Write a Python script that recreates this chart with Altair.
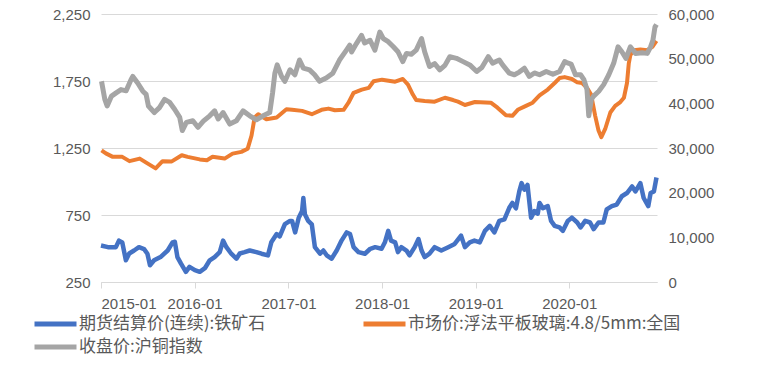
import altair as alt
import pandas as pd

SERIES = ["期货结算价(连续):铁矿石", "市场价:浮法平板玻璃:4.8/5mm:全国", "收盘价:沪铜指数"]
COLORS = ["#4472C4", "#ED7D31", "#A5A5A5"]
# legend fills column by column: order so rows read blue | orange, then gray
LEGEND_ORDER = [0, 2, 1]

# 期货结算价(连续):铁矿石 (left axis)
iron_dates = [
    "2015-01-01", "2015-01-28", "2015-02-28", "2015-03-12", "2015-03-25", "2015-04-08", "2015-04-21",
    "2015-05-10", "2015-05-29", "2015-06-18", "2015-07-01", "2015-07-11", "2015-07-27", "2015-08-21",
    "2015-09-18", "2015-10-07", "2015-10-16", "2015-10-26", "2015-11-09", "2015-11-28", "2015-12-12",
    "2016-01-02", "2016-01-21", "2016-02-10", "2016-02-29", "2016-03-19", "2016-04-08", "2016-04-21",
    "2016-05-04", "2016-05-23", "2016-06-12", "2016-06-25", "2016-07-14", "2016-08-03", "2016-08-29",
    "2016-09-18", "2016-10-13", "2016-10-26", "2016-11-16", "2016-11-28", "2016-12-18",
    "2017-01-07", "2017-01-15", "2017-01-27", "2017-02-10", "2017-02-23", "2017-02-28", "2017-03-06",
    "2017-03-19", "2017-04-02", "2017-04-14", "2017-05-04", "2017-05-17", "2017-05-30", "2017-06-18",
    "2017-07-08", "2017-07-27", "2017-08-16", "2017-08-29", "2017-09-12", "2017-10-01", "2017-10-26",
    "2017-11-16", "2017-12-05", "2017-12-30",
    "2018-01-12", "2018-01-25", "2018-02-05", "2018-02-21", "2018-03-04", "2018-03-17", "2018-04-06",
    "2018-04-18", "2018-05-08", "2018-05-23", "2018-06-04", "2018-06-16", "2018-07-05", "2018-07-25",
    "2018-08-20", "2018-09-16", "2018-10-11", "2018-11-05", "2018-11-20", "2018-12-09", "2018-12-27",
    "2019-01-17", "2019-02-06", "2019-02-25", "2019-03-15", "2019-04-03", "2019-04-23", "2019-05-12",
    "2019-05-24", "2019-06-07", "2019-06-20", "2019-06-29", "2019-07-10", "2019-07-22", "2019-08-05",
    "2019-08-18", "2019-08-31", "2019-09-07", "2019-09-20", "2019-10-09", "2019-10-22", "2019-11-05",
    "2019-11-24", "2019-12-07", "2019-12-26",
    "2020-01-11", "2020-02-01", "2020-02-14", "2020-03-03", "2020-03-22", "2020-04-05", "2020-04-24",
    "2020-05-13", "2020-05-26", "2020-06-15", "2020-07-04", "2020-07-24", "2020-08-13", "2020-09-02",
    "2020-09-15", "2020-10-04", "2020-10-17", "2020-11-04", "2020-11-13", "2020-11-26", "2020-12-06",
]
iron_values = [
    522, 510, 510, 559, 545, 412, 463, 485, 510, 495, 461, 375, 412, 436, 485, 546, 550, 436, 387, 326, 363,
    338, 326, 353, 412, 436, 473, 559, 510, 461, 424, 463, 473, 485, 473, 461, 449, 546, 608, 590, 682,
    706, 706, 620, 730, 779, 877, 755, 706, 680, 510, 461, 485, 449, 424, 485, 559, 620, 608, 510, 473,
    461, 498, 510, 498,
    546, 632, 559, 546, 473, 510, 485, 449, 510, 571, 485, 436, 461, 510, 485, 510, 534, 596, 510, 546, 559,
    546, 632, 669, 620, 706, 718, 804, 840, 800, 926, 988, 939, 975, 730, 779, 760, 840, 800, 816, 706,
    669, 657, 632, 706,
    730, 694, 657, 706, 694, 645, 694, 694, 792, 816, 828, 890, 914, 963, 926, 988, 877, 816, 914, 926, 1030,
]

# 市场价:浮法平板玻璃:4.8/5mm:全国 (left axis)
glass_dates = [
    "2015-01-03", "2015-01-20", "2015-02-16", "2015-03-25", "2015-04-22", "2015-06-01", "2015-07-01",
    "2015-08-02", "2015-08-29", "2015-10-04", "2015-11-12", "2015-12-05",
    "2016-01-21", "2016-02-18", "2016-03-11", "2016-04-27", "2016-05-28", "2016-07-01", "2016-07-26",
    "2016-08-10", "2016-08-22", "2016-09-05", "2016-10-07", "2016-11-16", "2016-12-24",
    "2017-01-15", "2017-02-23", "2017-04-02", "2017-05-10", "2017-06-06", "2017-07-01", "2017-08-04",
    "2017-08-23", "2017-09-12", "2017-10-14", "2017-11-10", "2017-11-29",
    "2018-01-01", "2018-02-21", "2018-03-23", "2018-04-12", "2018-05-01", "2018-05-14", "2018-06-16",
    "2018-07-25", "2018-09-03", "2018-10-05", "2018-10-24", "2018-11-20", "2018-12-29",
    "2019-03-01", "2019-03-27", "2019-04-29", "2019-05-24", "2019-06-14", "2019-07-16", "2019-08-11",
    "2019-09-07", "2019-10-09", "2019-11-05", "2019-11-24", "2019-12-14",
    "2020-01-11", "2020-02-01", "2020-02-20", "2020-03-10", "2020-03-26", "2020-04-11", "2020-04-24",
    "2020-05-05", "2020-05-20", "2020-06-09", "2020-06-28", "2020-07-18", "2020-08-01", "2020-08-13",
    "2020-08-20", "2020-08-26", "2020-09-09", "2020-10-04", "2020-10-31", "2020-11-20", "2020-12-06",
]
glass_values = [
    1233, 1210, 1184, 1184, 1152, 1171, 1135, 1098, 1152, 1150, 1196, 1184,
    1165, 1159, 1184, 1171, 1208, 1221, 1245, 1343, 1478, 1502, 1465, 1478, 1539,
    1535, 1527, 1502, 1535, 1544, 1532, 1535, 1588, 1662, 1686, 1699, 1748,
    1760, 1745, 1765, 1723, 1649, 1608, 1601, 1596, 1625, 1608, 1596, 1571, 1593,
    1588, 1551, 1495, 1490, 1535, 1564, 1588, 1642, 1686, 1735, 1772, 1779,
    1765, 1740, 1735, 1699, 1649, 1490, 1380, 1331, 1392, 1515, 1564, 1593, 1625, 1735,
    1882, 1943, 1980, 1985, 1980, 2005, 2050,
]

# 收盘价:沪铜指数 (right axis)
copper_dates = [
    "2015-01-03", "2015-01-16", "2015-01-25", "2015-02-11", "2015-03-01", "2015-03-20", "2015-04-09",
    "2015-04-28", "2015-05-05", "2015-05-24", "2015-06-13", "2015-06-26", "2015-07-05", "2015-07-28",
    "2015-08-17", "2015-09-06", "2015-09-26", "2015-10-15", "2015-11-04", "2015-11-14", "2015-11-30",
    "2015-12-25",
    "2016-01-14", "2016-02-04", "2016-02-29", "2016-03-19", "2016-04-02", "2016-04-21", "2016-05-17",
    "2016-06-12", "2016-07-08", "2016-08-03", "2016-08-29", "2016-09-24", "2016-10-20", "2016-10-31",
    "2016-11-09", "2016-11-18", "2016-12-05", "2016-12-18",
    "2017-01-07", "2017-01-26", "2017-02-13", "2017-02-28", "2017-03-24", "2017-04-13", "2017-05-02",
    "2017-05-28", "2017-06-23", "2017-07-19", "2017-08-15", "2017-08-28", "2017-09-04", "2017-09-23",
    "2017-10-13", "2017-10-25", "2017-11-15", "2017-12-04", "2017-12-23",
    "2018-01-06", "2018-01-25", "2018-02-14", "2018-03-04", "2018-03-23", "2018-04-06", "2018-04-25",
    "2018-05-14", "2018-06-04", "2018-06-16", "2018-07-05", "2018-07-25", "2018-08-14", "2018-09-03",
    "2018-09-22", "2018-10-18", "2018-11-13", "2018-12-09",
    "2019-01-05", "2019-01-25", "2019-02-19", "2019-03-08", "2019-04-03", "2019-04-16", "2019-05-12",
    "2019-06-01", "2019-06-20", "2019-07-10", "2019-07-29", "2019-08-18", "2019-09-07", "2019-10-03",
    "2019-10-29", "2019-11-24", "2019-12-14", "2019-12-22",
    "2020-01-08", "2020-01-25", "2020-02-14", "2020-02-27", "2020-03-10", "2020-03-17", "2020-03-27",
    "2020-04-05", "2020-04-25", "2020-05-14", "2020-06-03", "2020-06-22", "2020-07-09", "2020-07-24",
    "2020-08-09", "2020-08-26", "2020-09-15", "2020-10-11", "2020-10-31", "2020-11-13", "2020-11-22",
    "2020-11-30", "2020-12-06",
]
copper_values = [
    44930, 40870, 39410, 41620, 42350, 43080, 42800, 45290, 46030, 44560, 42720, 42000, 39410, 37940,
    39040, 40870, 40200, 38670, 36840, 33900, 35730, 36100,
    34630, 36000, 37210, 38310, 36500, 37940, 35360, 36100, 38310, 37210, 36330, 37210, 37940, 42350,
    46760, 48600, 46030, 44930,
    47500, 46400, 49700, 47870, 47500, 46400, 44930, 45660, 46760, 49700, 51900, 53010, 51500, 53380,
    55210, 53500, 54120, 51900, 55960,
    54490, 53800, 52650, 51550, 49340, 51180, 51000, 51900, 54490, 51550, 48240, 48900, 47500, 48500,
    50450, 50080, 49340, 48600,
    47130, 48000, 50450, 49000, 49700, 48600, 46760, 46400, 47000, 47870, 46030, 46800, 46400, 47130,
    46500, 47130, 49340, 49120,
    48800, 46400, 46400, 45290, 43080, 37210, 40870, 41620, 42720, 44190, 46400, 48970, 52650, 51550,
    50080, 52650, 51180, 51330, 51180, 52650, 54120, 57060, 57650,
]

LEFT_TICKS = [250, 750, 1250, 1750, 2250]
RIGHT_TICKS = [0, 10000, 20000, 30000, 40000, 50000, 60000]
YEARS = [2015, 2016, 2017, 2018, 2019, 2020]

iron_df = pd.DataFrame({"date": iron_dates, "value": iron_values, "series": SERIES[0]})
glass_df = pd.DataFrame({"date": glass_dates, "value": glass_values, "series": SERIES[1]})
copper_df = pd.DataFrame({"date": copper_dates, "value": copper_values, "series": SERIES[2]})

LABEL_COLOR = "#595959"
GRID_COLOR = "#D9D9D9"
AXIS_FONT = "Liberation Sans"

x_enc = alt.X(
    "date:T",
    title=None,
    scale=alt.Scale(
        type="utc",
        domain=[alt.DateTime(year=2015, month=1, date=1, utc=True),
                alt.DateTime(year=2020, month=12, date=8, utc=True)],
    ),
    axis=alt.Axis(
        values=[alt.DateTime(year=y, month=1, date=1, utc=True) for y in YEARS],
        format="%Y-%m",
        grid=False,
        domain=True,
        domainColor=GRID_COLOR,
        ticks=True,
        tickColor=GRID_COLOR,
        tickSize=6,
        labelPadding=8,
        labelFont=AXIS_FONT,
        labelFontSize=15,
        labelColor=LABEL_COLOR,
    ),
)

color_enc = alt.Color(
    "series:N",
    scale=alt.Scale(domain=[SERIES[i] for i in LEGEND_ORDER],
                    range=[COLORS[i] for i in LEGEND_ORDER]),
    legend=alt.Legend(
        title=None,
        orient="none",
        legendX=-69,
        legendY=297,
        columns=2,
        columnPadding=87,
        rowPadding=0,
        symbolType="M-1,0H3",
        symbolSize=441,
        symbolStrokeWidth=5,
        labelFont="Noto Sans CJK SC",
        labelFontSize=17,
        labelColor=LABEL_COLOR,
        labelOffset=21,
        labelLimit=400,
    ),
)

left_axis = alt.Axis(
    values=LEFT_TICKS,
    format=",d",
    grid=True,
    gridColor=GRID_COLOR,
    domain=False,
    ticks=False,
    labelPadding=11,
    labelFont=AXIS_FONT,
    labelFontSize=15,
    labelColor=LABEL_COLOR,
)
left_scale = alt.Scale(domain=[250, 2250], nice=False, zero=False)

iron = alt.Chart(iron_df).mark_line(strokeWidth=4.5, strokeJoin="round").encode(
    x=x_enc,
    y=alt.Y("value:Q", title=None, scale=left_scale, axis=left_axis),
    color=color_enc,
)
glass = alt.Chart(glass_df).mark_line(strokeWidth=4, strokeJoin="round").encode(
    x=x_enc,
    y=alt.Y("value:Q", title=None, scale=left_scale, axis=left_axis),
    color=color_enc,
)
copper = alt.Chart(copper_df).mark_line(strokeWidth=5, strokeJoin="round").encode(
    x=x_enc,
    y=alt.Y(
        "value:Q",
        title=None,
        scale=alt.Scale(domain=[0, 60000], nice=False),
        axis=alt.Axis(
            orient="right",
            values=RIGHT_TICKS,
            format=",d",
            grid=False,
            domain=False,
            ticks=False,
            labelPadding=11,
            labelFont=AXIS_FONT,
            labelFontSize=15,
            labelColor=LABEL_COLOR,
        ),
    ),
    color=color_enc,
)

chart = (
    alt.layer(alt.layer(iron, glass), copper)
    .resolve_scale(y="independent")
    .properties(
        width=556,
        height=268,
        autosize=alt.AutoSizeParams(type="none"),
        padding={"left": 93, "top": 6, "right": 94, "bottom": 76},
        background="white",
    )
    .configure_view(stroke=None)
)

chart.save("out.html", embed_options={"renderer": "svg", "actions": False})
